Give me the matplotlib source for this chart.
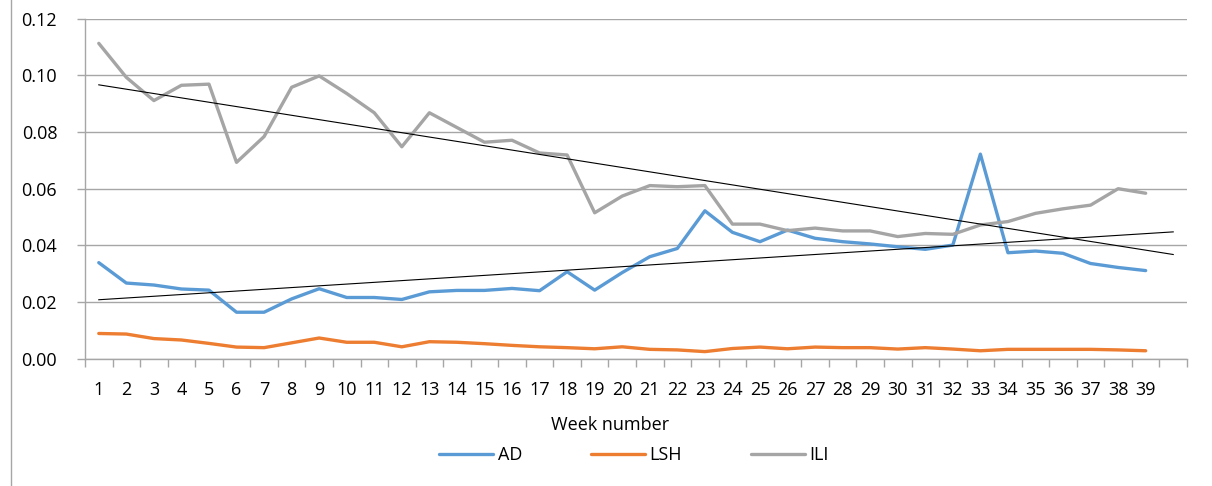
import numpy as np
import matplotlib
matplotlib.use("Agg")
import matplotlib.pyplot as plt
from matplotlib.lines import Line2D

plt.rcParams['font.family'] = ['Open Sans', 'DejaVu Sans']

weeks = list(range(1, 40))
ad = [0.0339, 0.0267, 0.0260, 0.0246, 0.0242, 0.0164, 0.0164, 0.0211, 0.0247, 0.0216,
      0.0216, 0.0209, 0.0236, 0.0241, 0.0241, 0.0248, 0.0240, 0.0307, 0.0242, 0.0304,
      0.0360, 0.0389, 0.0522, 0.0446, 0.0413, 0.0454, 0.0425, 0.0413, 0.0405, 0.0395,
      0.0386, 0.0401, 0.0722, 0.0374, 0.0380, 0.0372, 0.0336, 0.0322, 0.0311]
lsh = [0.0089, 0.0087, 0.0071, 0.0066, 0.0054, 0.0041, 0.0039, 0.0056, 0.0073, 0.0058,
       0.0058, 0.0042, 0.0060, 0.0058, 0.0053, 0.0047, 0.0042, 0.0039, 0.0035, 0.0042,
       0.0033, 0.0031, 0.0025, 0.0036, 0.0041, 0.0035, 0.0041, 0.0039, 0.0039, 0.0034,
       0.0039, 0.0034, 0.0028, 0.0033, 0.0033, 0.0033, 0.0033, 0.0031, 0.0028]
ili = [0.1113, 0.0993, 0.0911, 0.0965, 0.0969, 0.0693, 0.0784, 0.0958, 0.0998, 0.0936,
       0.0868, 0.0748, 0.0868, 0.0816, 0.0764, 0.0771, 0.0726, 0.0719, 0.0515, 0.0574,
       0.0611, 0.0607, 0.0611, 0.0475, 0.0475, 0.0452, 0.0461, 0.0451, 0.0451, 0.0431,
       0.0442, 0.0439, 0.0472, 0.0484, 0.0513, 0.0529, 0.0542, 0.0600, 0.0584]

n_cat = 40
grid_c = '#a6a6a6'
fs = 13

fig = plt.figure(figsize=(12.12, 4.86), dpi=100)
ax = fig.add_axes([85/1212, 1 - 358.7/486, 1102/1212, 340/486])

x = np.array(weeks)
ax.plot(x, ad, color='#5B9BD5', lw=2.4, solid_capstyle='round', solid_joinstyle='round', label='AD')
ax.plot(x, lsh, color='#ED7D31', lw=2.4, solid_capstyle='round', solid_joinstyle='round', label='LSH')
ax.plot(x, ili, color='#A5A5A5', lw=2.4, solid_capstyle='round', solid_joinstyle='round', label='ILI')

# linear trendlines for AD and ILI, extended to the last (empty) category
xt = np.array([1, n_cat])
for s in (ad, ili):
    k, b = np.polyfit(x, s, 1)
    ax.plot(xt, k * xt + b, color='black', lw=0.8)

ax.set_xlim(0.5, n_cat + 0.5)
ax.set_ylim(0, 0.12)
ax.set_yticks(np.arange(0, 0.121, 0.02))
ax.set_yticklabels([f'{v:.2f}' for v in np.arange(0, 0.121, 0.02)])
ax.yaxis.grid(True, color=grid_c, lw=1)
ax.set_axisbelow(True)

ax.set_xticks(np.arange(0.5, n_cat + 1, 1))
ax.set_xticklabels([])
ax.set_xticks(np.arange(1, n_cat + 1), minor=True)
ax.set_xticklabels([str(w) for w in weeks] + [''], minor=True)
ax.tick_params(axis='x', which='major', length=6, color=grid_c, width=1)
ax.tick_params(axis='x', which='minor', length=0, pad=16, labelsize=fs)
ax.tick_params(axis='y', length=6, color=grid_c, width=1, pad=14, labelsize=fs)

for side in ('top', 'right'):
    ax.spines[side].set_visible(False)
for side in ('left', 'bottom'):
    ax.spines[side].set_color(grid_c)
    ax.spines[side].set_linewidth(1)

fig.text(610/1212, 1 - 425/486, 'Week number', ha='center', va='center', fontsize=fs)

fig.legend(loc='center', bbox_to_anchor=(634/1212, 1 - 455/486), ncol=3, frameon=False,
           fontsize=fs, handlelength=3.0, handletextpad=0.25, columnspacing=3.8)

fig.add_artist(Line2D([10.5/1212, 10.5/1212], [0, 1], color=grid_c, lw=1))

fig.savefig('out.png', dpi=100)
